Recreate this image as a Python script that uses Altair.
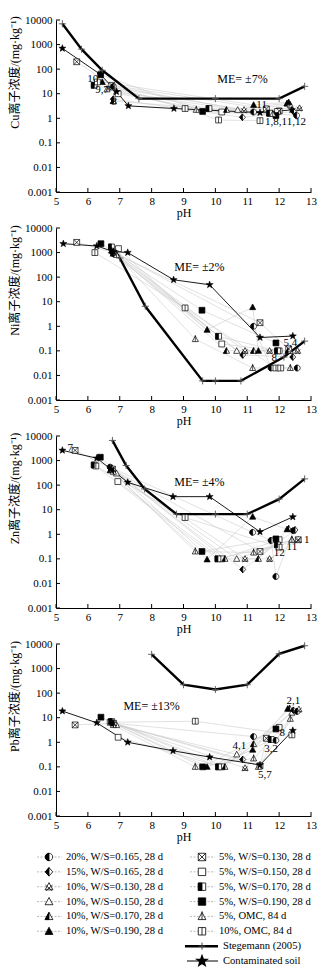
import math
import altair as alt
import pandas as pd

SERIF = "Liberation Serif, Noto Sans CJK SC"

SERIES = ["20%, W/S=0.165, 28 d", "15%, W/S=0.165, 28 d", "10%, W/S=0.130, 28 d",
          "10%, W/S=0.150, 28 d", "10%, W/S=0.170, 28 d", "10%, W/S=0.190, 28 d",
          "5%, W/S=0.130, 28 d", "5%, W/S=0.150, 28 d", "5%, W/S=0.170, 28 d",
          "5%, W/S=0.190, 28 d", "5%, OMC, 84 d", "10%, OMC, 84 d"]
REF_NAMES = ["Stegemann (2005)", "Contaminated soil"]
METALS = ["Cu", "Ni", "Zn", "Pb"]
PH_TICKS = [5, 6, 7, 8, 9, 10, 11, 12, 13]
Y_TICKS = [0.001, 0.01, 0.1, 1, 10, 100, 1000, 10000]

# ---------------- Cu ----------------
CU_PH = [[6.8, 11.2, 12.55], [6.8, 10.85, 12.45], [6.75, 10.9, 12.64], [6.9, 10.7, 12.35],
         [6.8, 10.35, 12.25], [6.45, 11.2, 12.3], [5.65, 6.75, 11.6, 12.0], [6.95, 10.2, 11.95],
         [6.2, 9.8, 11.7], [6.4, 9.6, 11.9], [6.6, 9.4, 11.8], [6.3, 9.05, 10.1, 11.4]]
CU_VAL = [[20, 1.8, 1.3], [6, 1.1, 1.9], [18, 2.2, 2.6], [12, 2.2, 3.5],
          [5, 2.2, 4.0], [30, 3.5, 4.5], [200, 22, 2.4, 2.0], [10, 1.8, 1.9],
          [22, 2.5, 1.6], [60, 1.9, 1.3], [15, 2.2, 1.5], [30, 2.5, 0.85, 0.8]]
CU_STEG_PH = [5.2, 5.8, 6.45, 7.6, 10.0, 12.0, 12.8]
CU_STEG_VAL = [7000, 650, 90, 6.3, 6.3, 6.3, 20]
CU_SOIL_PH = [5.2, 6.4, 6.9, 7.27, 8.7, 11.4, 12.4]
CU_SOIL_VAL = [700, 60, 12, 3.2, 2.5, 1.7, 2.2]
CU_NOTES = ["10", "9,7", "8", "11", "1,8,11,12"]
CU_NOTE_PH = [6.15, 6.45, 6.82, 11.45, 12.2]
CU_NOTE_VAL = [40, 14, 4.5, 3.4, 0.68]
CU_ME = ("ME= ±7%", 10.85, 39)

# ---------------- Ni ----------------
NI_PH = [[6.8, 11.2, 11.75, 12.57], [6.8, 10.86, 12.43], [6.8, 10.93, 11.7, 12.58], [6.85, 10.67, 12.35],
         [6.75, 10.35, 11.2, 12.28], [6.8, 9.74, 11.17, 11.35], [5.65, 6.8, 11.4, 12.3], [6.96, 10.2, 12.0],
         [6.74, 10.1, 11.95], [6.41, 9.58, 11.9], [6.9, 9.37, 11.17, 12.35], [6.22, 9.05, 11.9, 12.05]]
NI_VAL = [[1100, 1.0, 0.02, 0.02], [900, 0.068, 0.056], [1000, 0.1, 0.1, 0.1], [1000, 0.1, 0.1],
          [1200, 0.1, 0.1, 0.1], [900, 0.72, 6.0, 0.1], [2600, 1000, 1.4, 0.12], [1450, 0.19, 0.1],
          [1700, 0.39, 0.1], [2300, 4.5, 0.21], [800, 0.3, 0.02, 0.02], [1000, 5.6, 0.02, 0.02]]
NI_STEG_PH = [6.85, 7.0, 7.8, 9.6, 10.0, 10.8, 12.15, 12.8]
NI_STEG_VAL = [1200, 600, 6.5, 0.006, 0.006, 0.006, 0.056, 0.25]
NI_SOIL_PH = [5.23, 6.28, 6.8, 7.25, 8.69, 9.82, 11.4, 12.43]
NI_SOIL_VAL = [2300, 1850, 1100, 1000, 78, 49, 0.35, 0.4]
NI_NOTES = ["5,4", "8"]
NI_NOTE_PH = [12.35, 11.85]
NI_NOTE_VAL = [0.2, 0.05]
NI_ME = ("ME= ±2%", 9.5, 250)

# ---------------- Zn ----------------
ZN_PH = [[6.7, 11.17, 11.75, 11.9, 12.45], [6.8, 10.86, 12.5], [6.77, 10.93, 11.7, 12.6], [6.9, 10.67, 12.4],
         [6.75, 10.3, 11.35, 12.3], [6.7, 9.74, 11.17, 12.25], [5.6, 6.77, 11.4, 12.6], [6.94, 10.2, 12.0],
         [6.2, 10.08, 11.95], [6.39, 9.58, 11.9], [6.8, 9.37, 11.2, 12.4], [6.25, 9.05, 12.0]]
ZN_VAL = [[540, 1.2, 0.56, 0.019, 1.4], [400, 0.037, 1.5], [450, 0.1, 0.1, 0.6], [300, 0.1, 0.6],
          [500, 0.1, 0.1, 1.7], [400, 0.095, 5.2, 1.6], [2600, 450, 0.2, 0.6], [140, 0.1, 0.6],
          [660, 0.1, 0.37], [1370, 0.2, 0.65], [350, 0.2, 0.18, 0.6], [600, 4.8, 0.3]]
ZN_STEG_PH = [6.77, 7.2, 7.78, 8.78, 10.0, 11.0, 12.0, 12.8]
ZN_STEG_VAL = [6600, 630, 70, 6.6, 6.6, 6.6, 27, 180]
ZN_SOIL_PH = [5.2, 6.28, 7.25, 8.67, 9.82, 11.4, 12.43]
ZN_SOIL_VAL = [2600, 1250, 130, 34, 34, 1.26, 5.1]
ZN_NOTES = ["7", "1", "11", "12"]
ZN_NOTE_PH = [5.45, 12.87, 12.4, 12.0]
ZN_NOTE_VAL = [3300, 0.6, 0.3, 0.17]
ZN_ME = ("ME= ±4%", 9.5, 140)

# ---------------- Pb ----------------
PB_PH = [[6.8, 11.2, 11.9, 12.57], [6.8, 10.86, 12.45], [6.8, 10.93, 12.62], [6.9, 10.67, 12.4],
         [6.74, 10.3, 11.2, 12.33], [6.8, 9.74, 11.17, 12.27], [5.6, 6.8, 11.4, 11.6], [6.95, 10.2, 12.0],
         [6.74, 10.1, 11.75], [6.41, 9.6, 11.9], [6.8, 9.37, 11.2, 11.35, 12.35], [6.7, 9.37, 12.4]]
PB_VAL = [[6, 1.7, 1.2, 18], [6, 0.2, 20], [6, 0.09, 22], [5, 0.32, 16],
          [7, 0.1, 0.85, 24], [6, 0.1, 0.5, 23], [5.1, 6, 0.11, 1.45], [1.6, 0.1, 4.0],
          [7, 0.1, 1.3], [10.5, 0.1, 3.5], [5, 0.1, 0.22, 0.1, 9], [6.5, 7.2, 2.0]]
PB_STEG_PH = [8.0, 9.0, 10.0, 11.0, 12.0, 12.8]
PB_STEG_VAL = [3800, 220, 140, 220, 4000, 8500]
PB_SOIL_PH = [5.2, 6.28, 7.25, 8.67, 9.82, 11.4, 12.43]
PB_SOIL_VAL = [18.6, 6.2, 1.0, 0.45, 0.25, 0.12, 3.0]
PB_NOTES = ["2,1", "4,1", "3,2", "8", "5,7"]
PB_NOTE_PH = [12.45, 10.75, 11.75, 12.1, 11.55]
PB_NOTE_VAL = [48, 0.7, 0.55, 2.5, 0.045]
PB_ME = ("ME= ±13%", 8.0, 30)

# ---------------- marker glyphs (style) ----------------
SQ = "M-1,-1L1,-1L1,1L-1,1Z"
SQ_LEFT = "M-1,-1L0,-1L0,1L-1,1Z"
SQ_X = "M-1,-1L1,1M1,-1L-1,1"
SQ_V = "M0,-1L0,1"
TRI = "M0,-1.1L1.05,0.85L-1.05,0.85Z"
TRI_LEFT = "M0,-1.1L-1.05,0.85L0,0.85Z"
TRI_X = "M-0.95,-0.45L0.8,1.05M0.95,-0.45L-0.8,1.05"
TRI_V = "M0,-1.4L0,0.85"
CIRC = "M-1,0A1,1 0 1,0 1,0A1,1 0 1,0 -1,0Z"
CIRC_LEFT = "M0,-1A1,1 0 0,0 0,1Z"
DIA = "M0,-1.15L1,0L0,1.15L-1,0Z"
DIA_LEFT = "M0,-1.15L-1,0L0,1.15Z"
PLUS = "M-1,0L1,0M0,-1L0,1"
_pts = []
for _k in range(10):
    _a = math.radians(-90 + 36 * _k)
    _r = 1.0 if _k % 2 == 0 else 0.42
    _pts.append(f"{_r * math.cos(_a):.3f},{_r * math.sin(_a):.3f}")
STAR = "M" + "L".join(_pts) + "Z"

W, T, B = "white", "transparent", "black"
COMPONENTS = [
    [(CIRC, W), (CIRC_LEFT, B)],
    [(DIA, W), (DIA_LEFT, B)],
    [(TRI, W), (TRI_X, T)],
    [(TRI, W)],
    [(TRI, W), (TRI_LEFT, B)],
    [(TRI, B)],
    [(SQ, W), (SQ_X, T)],
    [(SQ, W)],
    [(SQ, W), (SQ_LEFT, B)],
    [(SQ, B)],
    [(TRI, W), (TRI_V, T)],
    [(SQ, W), (SQ_V, T)],
]

PW, PH_ = 255, 172
XSCALE = alt.Scale(domain=[5, 13], nice=False, zero=False)
YSCALE = alt.Scale(type="log", domain=[0.001, 10000], nice=False)


def xenc():
    return alt.X("ph:Q", scale=XSCALE,
                 axis=alt.Axis(values=PH_TICKS, format="d", title="pH", ticks=False, grid=False,
                               labelFlush=False, labelPadding=3, titlePadding=1,
                               domainColor="black", labelColor="black", titleColor="black",
                               labelFont=SERIF, labelFontSize=11, titleFont=SERIF,
                               titleFontSize=12, titleFontWeight="normal"))


def yenc(metal):
    return alt.Y("v:Q", scale=YSCALE,
                 axis=alt.Axis(values=Y_TICKS, format="~g", title=f"{metal}离子浓度/(mg·kg⁻¹)",
                               ticks=False, grid=False, labelFlush=False, labelOverlap=False,
                               labelPadding=4, domainColor="black", labelColor="black",
                               titleColor="black", labelFont=SERIF, labelFontSize=11,
                               titleFont=SERIF, titleFontSize=12, titleFontWeight="normal",
                               titleX=-42, titleY=52, titleAlign="center",
                               titleBaseline="middle", titleAngle=270))


def comp_frame(rows):
    out = []
    for r in rows:
        for k, (path, fc) in enumerate(COMPONENTS[r["sid"]]):
            d = dict(r)
            d.update(path=path, fc=fc, k=k)
            out.append(d)
    return pd.DataFrame(out)


def panel(metal, sph, sval, steg_ph, steg_val, soil_ph, soil_val, notes, note_ph, note_val, me):
    rows = []
    for i in range(12):
        for p, v in zip(sph[i], sval[i]):
            rows.append(dict(sid=i, ph=p, v=v))
    pts = pd.DataFrame(rows)
    comp = comp_frame(rows)
    steg = pd.DataFrame(dict(ph=steg_ph, v=steg_val))
    soil = pd.DataFrame(dict(ph=soil_ph, v=soil_val))
    nt = pd.DataFrame(dict(ph=note_ph, v=note_val, t=notes))
    met = pd.DataFrame(dict(ph=[me[1]], v=[me[2]], t=[me[0]]))
    xt = pd.DataFrame(dict(ph=PH_TICKS))
    yt = pd.DataFrame(dict(v=Y_TICKS))

    X, Y = xenc(), yenc(metal)
    glines = alt.Chart(pts).mark_line(color="#cdcdcd", strokeWidth=0.6).encode(
        x=X, y=Y, detail="sid:N", order="ph:Q")
    sline = alt.Chart(steg).mark_line(color="black", strokeWidth=2.4).encode(x=X, y=Y, order="ph:Q")
    cline = alt.Chart(soil).mark_line(color="black", strokeWidth=0.9).encode(x=X, y=Y, order="ph:Q")
    gpts = alt.Chart(comp).mark_point(filled=True, stroke="black", strokeWidth=0.7, opacity=1).encode(
        x=X, y=Y, shape=alt.Shape("path:N", scale=None), fill=alt.Fill("fc:N", scale=None),
        size=alt.value(34), order=alt.Order("k:Q"))
    spts = alt.Chart(steg).mark_point(shape=PLUS, stroke="#555", strokeWidth=0.9, opacity=1,
                                      size=50).encode(x=X, y=Y)
    cpts = alt.Chart(soil).mark_point(shape=STAR, filled=True, fill="black", stroke="black",
                                      strokeWidth=0.5, opacity=1, size=55).encode(x=X, y=Y)
    ntext = alt.Chart(nt).mark_text(font=SERIF, fontSize=11, color="black").encode(x=X, y=Y, text="t:N")
    mtext = alt.Chart(met).mark_text(font=SERIF, fontSize=12, color="black").encode(x=X, y=Y, text="t:N")
    xticks = alt.Chart(xt).mark_rule(color="black", strokeWidth=1).encode(
        x=X, y=alt.value(PH_), y2=alt.value(PH_ - 4))
    yticks = alt.Chart(yt).mark_rule(color="black", strokeWidth=1).encode(
        y=Y, x=alt.value(0), x2=alt.value(4))
    return alt.layer(glines, sline, cline, xticks, yticks, gpts, spts, cpts, ntext, mtext).properties(
        width=PW, height=PH_)


p1 = panel("Cu", CU_PH, CU_VAL, CU_STEG_PH, CU_STEG_VAL, CU_SOIL_PH, CU_SOIL_VAL,
           CU_NOTES, CU_NOTE_PH, CU_NOTE_VAL, CU_ME)
p2 = panel("Ni", NI_PH, NI_VAL, NI_STEG_PH, NI_STEG_VAL, NI_SOIL_PH, NI_SOIL_VAL,
           NI_NOTES, NI_NOTE_PH, NI_NOTE_VAL, NI_ME)
p3 = panel("Zn", ZN_PH, ZN_VAL, ZN_STEG_PH, ZN_STEG_VAL, ZN_SOIL_PH, ZN_SOIL_VAL,
           ZN_NOTES, ZN_NOTE_PH, ZN_NOTE_VAL, ZN_ME)
p4 = panel("Pb", PB_PH, PB_VAL, PB_STEG_PH, PB_STEG_VAL, PB_SOIL_PH, PB_SOIL_VAL,
           PB_NOTES, PB_NOTE_PH, PB_NOTE_VAL, PB_ME)

# ---------------- legend ----------------
leg_rows = []
for i, name in enumerate(SERIES):
    leg_rows.append(dict(sid=i, col=i // 6, row=i % 6, t=name))
leg = pd.DataFrame(leg_rows)
leg_comp = comp_frame(leg_rows)
refs = pd.DataFrame(dict(col=[1, 1], row=[6, 7], t=REF_NAMES))
LX = alt.Scale(domain=[0, 1], range=[-7, 146])
LY = alt.Scale(domain=[0, 7], range=[5, 109])
lx = alt.X("col:Q", scale=LX, axis=None)
ly = alt.Y("row:Q", scale=LY, axis=None)

l_lines = alt.Chart(leg).mark_rule(color="#aaa", strokeWidth=0.8, strokeDash=[2, 1.5],
                                   xOffset=-12, x2Offset=13).encode(x=lx, x2="col:Q", y=ly)
l_steg = alt.Chart(refs.iloc[[0]]).mark_rule(color="black", strokeWidth=2.5, xOffset=-17,
                                            x2Offset=16).encode(x=lx, x2="col:Q", y=ly)
l_soil = alt.Chart(refs.iloc[[1]]).mark_rule(color="black", strokeWidth=1, xOffset=-15,
                                            x2Offset=16).encode(x=lx, x2="col:Q", y=ly)
l_pts = alt.Chart(leg_comp).mark_point(filled=True, stroke="black", strokeWidth=0.8, opacity=1).encode(
    x=lx, y=ly, shape=alt.Shape("path:N", scale=None), fill=alt.Fill("fc:N", scale=None),
    size=alt.value(55), order=alt.Order("k:Q"))
l_plus = alt.Chart(refs.iloc[[0]]).mark_point(shape=PLUS, stroke="#444", strokeWidth=1, opacity=1,
                                             size=50).encode(x=lx, y=ly)
l_star = alt.Chart(refs.iloc[[1]]).mark_point(shape=STAR, filled=True, fill="black", stroke="black",
                                             opacity=1, size=80).encode(x=lx, y=ly)
l_text = alt.Chart(leg).mark_text(align="left", dx=17, font=SERIF, fontSize=10.6, color="black").encode(
    x=lx, y=ly, text="t:N")
l_rtext = alt.Chart(refs).mark_text(align="left", dx=21, font=SERIF, fontSize=10.6, color="black").encode(
    x=lx, y=ly, text="t:N")
legend = alt.layer(l_lines, l_steg, l_soil, l_pts, l_plus, l_star, l_text, l_rtext).properties(
    width=PW, height=115)

chart = alt.vconcat(p1, p2, p3, p4, legend, spacing=36, bounds="flush").configure_view(
    stroke=None).properties(padding={"left": 8, "top": 14, "right": 5, "bottom": 5})

chart.save("out.html", embed_options={"renderer": "svg", "actions": False})
